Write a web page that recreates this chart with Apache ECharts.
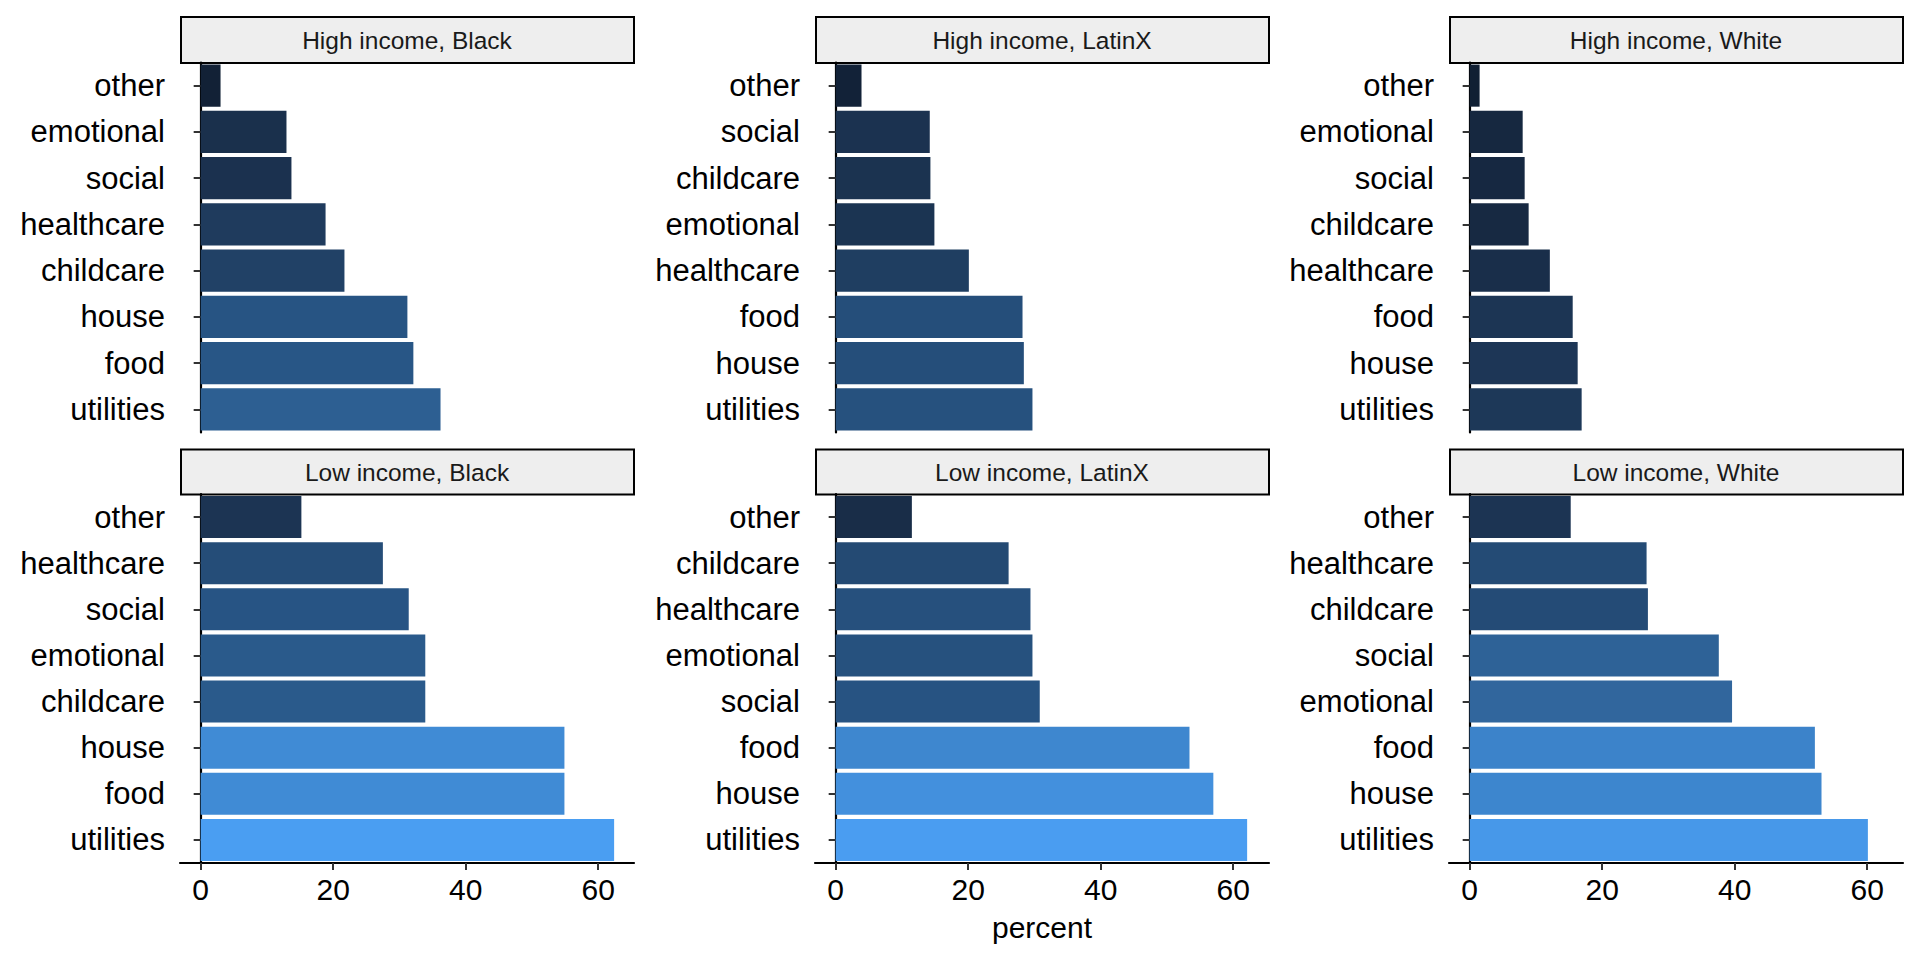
<!DOCTYPE html>
<html>
<head>
<meta charset="utf-8">
<script src="https://cdn.jsdelivr.net/npm/echarts@6/dist/echarts.min.js"></script>
<style>
html,body{margin:0;padding:0;background:#fff;}
#chart{width:1920px;height:960px;}
</style>
</head>
<body>
<div id="chart"></div>
<script>
// ---- data (categories listed top to bottom, values in percent) ----
const panelTitles = ['High income, Black', 'High income, LatinX', 'High income, White',
                     'Low income, Black', 'Low income, LatinX', 'Low income, White'];

const hiBlackCats  = ['other','emotional','social','healthcare','childcare','house','food','utilities'];
const hiBlackVals  = [3.0, 12.95, 13.7, 18.85, 21.7, 31.2, 32.1, 36.2];

const hiLatinxCats = ['other','social','childcare','emotional','healthcare','food','house','utilities'];
const hiLatinxVals = [3.9, 14.2, 14.3, 14.9, 20.1, 28.2, 28.4, 29.7];

const hiWhiteCats  = ['other','emotional','social','childcare','healthcare','food','house','utilities'];
const hiWhiteVals  = [1.5, 8.0, 8.3, 8.9, 12.1, 15.55, 16.3, 16.9];

const loBlackCats  = ['other','healthcare','social','emotional','childcare','house','food','utilities'];
const loBlackVals  = [15.2, 27.5, 31.4, 33.9, 33.9, 54.9, 54.9, 62.4];

const loLatinxCats = ['other','childcare','healthcare','emotional','social','food','house','utilities'];
const loLatinxVals = [11.5, 26.1, 29.4, 29.7, 30.8, 53.4, 57.0, 62.1];

const loWhiteCats  = ['other','healthcare','childcare','social','emotional','food','house','utilities'];
const loWhiteVals  = [15.25, 26.7, 26.9, 37.6, 39.6, 52.1, 53.1, 60.1];

const xTicks = [0, 20, 40, 60];
const xTitle = 'percent';

// ---- fill colour scale (continuous, by percent) ----
const fillStopValues = [0, 10.4, 20.8, 31.2, 41.6, 52, 62.4];
const fillStopColors = ['#0F1D30', '#182B45', '#203F63', '#275483', '#336AA3', '#3C83CA', '#4A9EF2'];

function hexToRgb(h){ return [parseInt(h.slice(1,3),16), parseInt(h.slice(3,5),16), parseInt(h.slice(5,7),16)]; }
function colorFor(v){
  const sv = fillStopValues, sc = fillStopColors;
  if (v <= sv[0]) return sc[0];
  if (v >= sv[sv.length-1]) return sc[sc.length-1];
  for (let i = 0; i < sv.length - 1; i++) {
    if (v >= sv[i] && v <= sv[i+1]) {
      const t = (v - sv[i]) / (sv[i+1] - sv[i]);
      const a = hexToRgb(sc[i]), b = hexToRgb(sc[i+1]);
      const c = a.map((x, k) => Math.round(x + (b[k] - x) * t));
      return 'rgb(' + c.join(',') + ')';
    }
  }
  return sc[0];
}

// ---- layout ----
const FONT = '"Liberation Sans", Arial, Helvetica, sans-serif';
const panelLefts = [180, 815, 1449];
const panelWidth = 454;
const rowTops = [62.5, 494];
const panelHeights = [370, 369];
const stripTops = [17, 449.5];
const stripHeights = [46, 45];
const xMin = -3.12, xMax = 65.4;

const panels = [
  {cats: hiBlackCats,  vals: hiBlackVals},
  {cats: hiLatinxCats, vals: hiLatinxVals},
  {cats: hiWhiteCats,  vals: hiWhiteVals},
  {cats: loBlackCats,  vals: loBlackVals},
  {cats: loLatinxCats, vals: loLatinxVals},
  {cats: loWhiteCats,  vals: loWhiteVals}
];

const grids = [], xAxes = [], yAxes = [], series = [], graphics = [];
panels.forEach((p, i) => {
  const row = Math.floor(i / 3), col = i % 3;
  const isBottom = row === 1;
  grids.push({left: panelLefts[col], top: rowTops[row], width: panelWidth, height: panelHeights[row], containLabel: false});
  xAxes.push({
    type: 'value', gridIndex: i, min: xMin, max: xMax,
    splitLine: {show: false},
    axisLine: {show: isBottom, onZero: false, lineStyle: {color: '#000', width: 2.2}},
    axisTick: {show: isBottom, length: 7, customValues: xTicks, lineStyle: {color: '#333', width: 2}},
    axisLabel: {show: isBottom, customValues: xTicks, fontSize: 30, color: '#000', fontFamily: FONT, margin: 11},
    name: (isBottom && col === 1) ? xTitle : '',
    nameLocation: 'middle', nameGap: 49,
    nameTextStyle: {fontSize: 30, color: '#000', fontFamily: FONT}
  });
  yAxes.push({
    type: 'category', gridIndex: i, data: p.cats, inverse: true,
    axisLine: {show: true, lineStyle: {color: '#000', width: 2.2}},
    axisTick: {show: true, alignWithLabel: true, length: 7, lineStyle: {color: '#333', width: 2}},
    axisLabel: {fontSize: 31, color: '#000', fontFamily: FONT, margin: 15, padding: [0, 0, 6, 0]},
    splitLine: {show: false}
  });
  series.push({
    type: 'bar', xAxisIndex: i, yAxisIndex: i, data: p.vals,
    barCategoryGap: '9%',
    itemStyle: {color: (params) => colorFor(params.value)},
    emphasis: {disabled: true}
  });
  graphics.push({
    type: 'rect', silent: true,
    shape: {x: panelLefts[col] + 1, y: stripTops[row], width: panelWidth - 1, height: stripHeights[row]},
    style: {fill: '#EEEEEE', stroke: '#000', lineWidth: 2}
  });
  graphics.push({
    type: 'text', silent: true,
    x: panelLefts[col] + panelWidth / 2, y: stripTops[row] + stripHeights[row] / 2 + 0.5,
    style: {text: panelTitles[i], font: '24.5px ' + FONT, fill: '#1A1A1A', textAlign: 'center', textVerticalAlign: 'middle'}
  });
});

const chart = echarts.init(document.getElementById('chart'), null, {renderer: 'svg', width: 1920, height: 960});
chart.setOption({
  animation: false,
  backgroundColor: '#ffffff',
  grid: grids,
  xAxis: xAxes,
  yAxis: yAxes,
  series: series,
  graphic: graphics
});
</script>
</body>
</html>
